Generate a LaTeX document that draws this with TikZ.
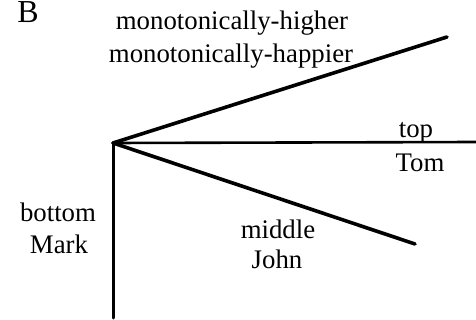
\documentclass[tikz,border=0pt]{standalone}
\usepackage{fontspec}
\setmainfont{Liberation Serif}
\begin{document}
\begin{tikzpicture}[x=0.5pt,y=-0.5pt,
    branch/.style={line width=1.8pt, line cap=round},
    lbl/.style={font=\fontsize{13.4}{15}\selectfont, inner sep=0pt, anchor=base}]
  \useasboundingbox (0,0) rectangle (476,320);
  % branch points
  \coordinate (root) at (113,143);
  \coordinate (upper) at (447,37);
  \coordinate (level) at (476,142);
  \coordinate (lower) at (415,244);
  \coordinate (down) at (113,318);
  \draw[branch] (root) -- (upper);
  \draw[branch, line width=1.3pt] (root) -- (level);
  \draw[branch] (root) -- (lower);
  \draw[branch, line width=1.5pt] (root) -- (down);
  % labels
  \node[lbl, font=\fontsize{16}{18}\selectfont] (panel) at (28,23) {B};
  \node[lbl] (higher) at (232,30) {monotonically-higher};
  \node[lbl] (happier) at (231,63) {monotonically-happier};
  \node[lbl] (top) at (416,138) {top};
  \node[lbl] (tom) at (420,172) {Tom};
  \node[lbl] (bottom) at (58,221) {bottom};
  \node[lbl] (mark) at (59,253) {Mark};
  \node[lbl] (middle) at (278,238) {middle};
  \node[lbl] (john) at (277,269) {John};
\end{tikzpicture}
\end{document}
